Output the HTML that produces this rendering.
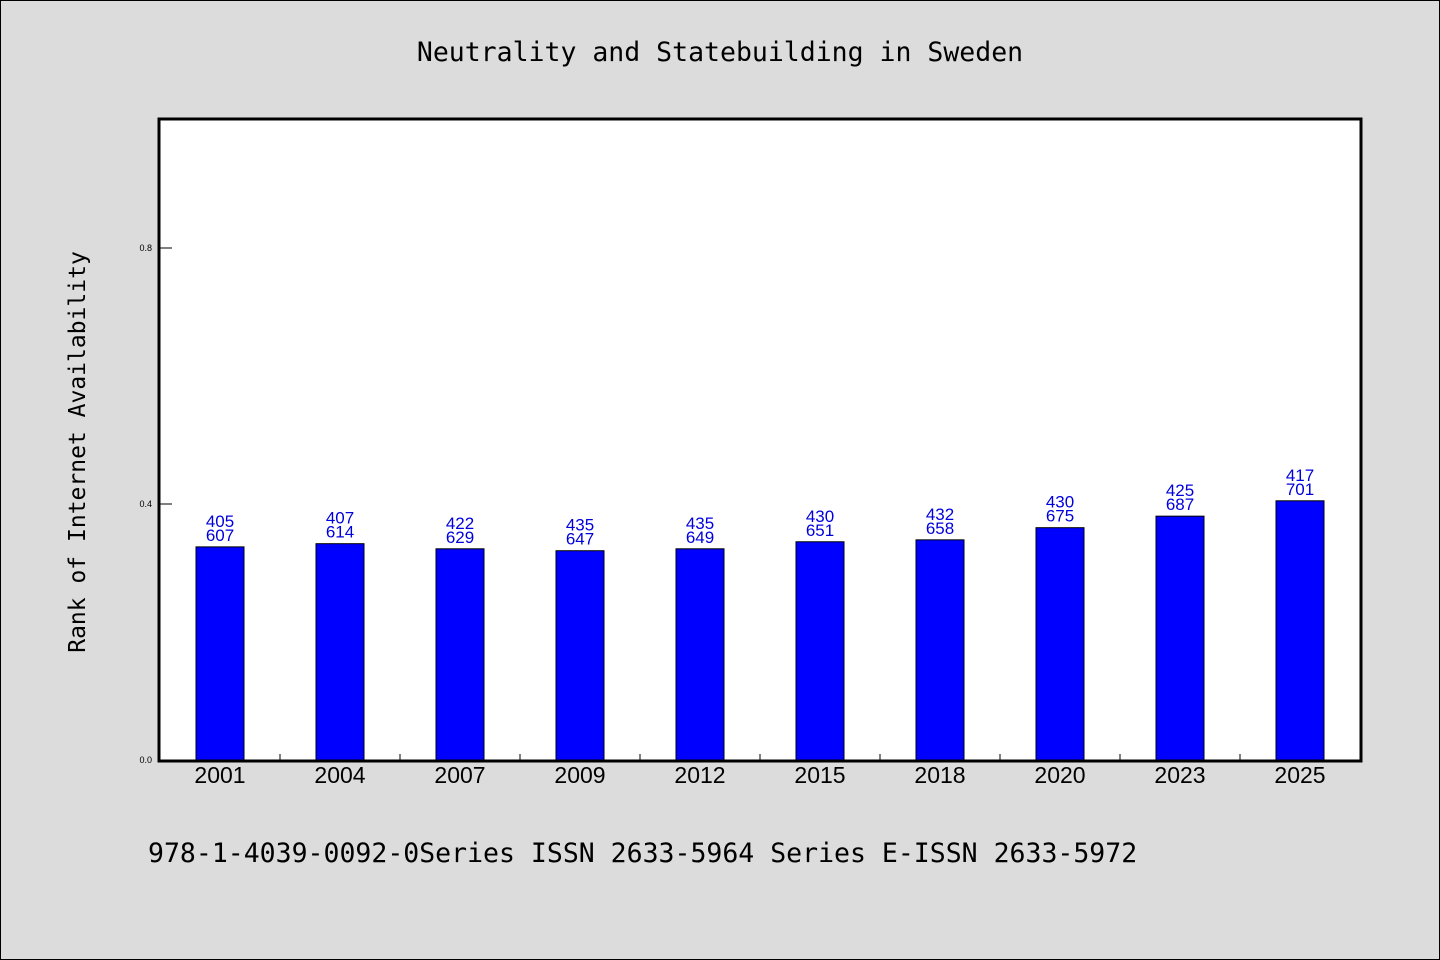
<!DOCTYPE html>
<html><head><meta charset="utf-8"><style>
html,body{margin:0;padding:0;background:#dcdcdc;}
svg{display:block;font-family:"Liberation Sans",sans-serif;}
.mono{font-family:"WenQuanYi Zen Hei Mono","DejaVu Sans Mono","Liberation Mono",monospace;}
</style></head><body>
<svg id="chart" width="1440" height="960" xmlns="http://www.w3.org/2000/svg">
<rect x="0.5" y="0.5" width="1439" height="959" fill="#dcdcdc" stroke="#000"/>
<text class="mono" x="720" y="61" text-anchor="middle" font-size="26.5">Neutrality and Statebuilding in Sweden</text>
<rect x="159" y="119" width="1202" height="642" fill="#fff"/>
<g id="bars"></g>
<rect x="159" y="119" width="1202" height="642" fill="none" stroke="#000" stroke-width="3"/>
<text class="mono" transform="translate(85,452) rotate(-90)" text-anchor="middle" font-size="23">Rank of Internet Availability</text>
<text class="mono" x="148" y="862" font-size="26.5">978-1-4039-0092-0Series ISSN 2633-5964 Series E-ISSN 2633-5972</text>
</svg>
<script>
const categories=["2001","2004","2007","2009","2012","2015","2018","2020","2023","2025"];
const values=[0.333,0.338,0.330,0.327,0.330,0.341,0.344,0.363,0.381,0.405];
const labelTop=["405","407","422","435","435","430","432","430","425","417"];
const labelBottom=["607","614","629","647","649","651","658","675","687","701"];
const yTicks=[0,0.4,0.8];
const yTickLabels=["0.0","0.4","0.8"];
const NS="http://www.w3.org/2000/svg";
const x0=160,plotW=1200,yBase=760,yTop=120,yMax=1.0;
const band=plotW/categories.length;
function xc(i){return x0+band*(i+0.5);}
function ys(v){return yBase-(v/yMax)*(yBase-yTop);}
const g=document.getElementById('bars');
function mk(tag,attrs){const e=document.createElementNS(NS,tag);for(const k in attrs)e.setAttribute(k,attrs[k]);g.appendChild(e);return e;}
categories.forEach((c,i)=>{
  const y=ys(values[i]);
  const r=mk('rect',{x:xc(i)-24,y:y,width:48,height:yBase-y,fill:'#0000ff',stroke:'#000','stroke-width':1});
  
  
  const t1=mk('text',{x:xc(i),y:y-20,'text-anchor':'middle','font-size':17,fill:'#0000dd'});
  t1.textContent=labelTop[i];
  
  
  const t2=mk('text',{x:xc(i),y:y-6,'text-anchor':'middle','font-size':17,fill:'#0000dd'});
  t2.textContent=labelBottom[i];
  
  
  const xl=mk('text',{x:xc(i),y:783,'text-anchor':'middle','font-size':23});
  xl.textContent=c;
  
  
  if(i>0){
    const tk=mk('line',{x1:x0+band*i,x2:x0+band*i,y1:754,y2:761,stroke:'#000'});
    
    
  }
});
yTicks.forEach((v,i)=>{
  const y=ys(v);
  const tk=mk('line',{x1:159,x2:172,y1:y,y2:y,stroke:'#000'});
  
  
  const t=mk('text',{x:152,y:y+3,'text-anchor':'end','font-size':9});
  t.textContent=yTickLabels[i];
  
  
});
</script>
</body></html>
